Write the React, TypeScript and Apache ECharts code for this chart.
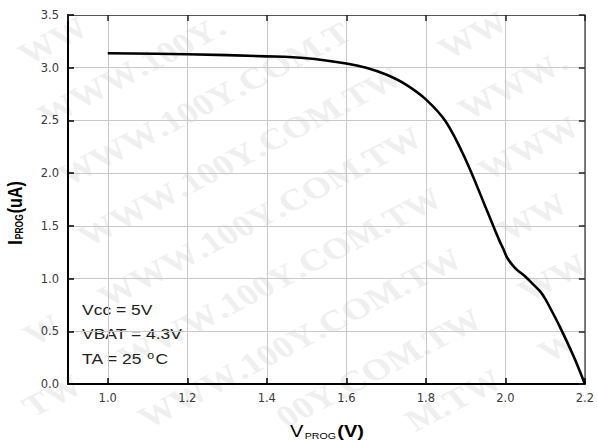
import React, { useEffect, useRef } from "react";
import * as echarts from "echarts";

// V_PROG (V)
const xValues = [1.0, 1.2, 1.4, 1.5, 1.6, 1.65, 1.7, 1.75, 1.8, 1.85, 1.9, 1.95, 1.975, 1.985, 1.995, 2.005, 2.0175, 2.03, 2.05, 2.07, 2.088, 2.1, 2.113, 2.1375, 2.1725, 2.2];
// I_PROG (uA)
const yValues = [3.137, 3.128, 3.108, 3.09, 3.04, 3.0, 2.935, 2.84, 2.7, 2.49, 2.13, 1.68, 1.45, 1.36, 1.28, 1.195, 1.13, 1.08, 1.02, 0.945, 0.876, 0.81, 0.72, 0.54, 0.256, 0.0];

const xRange = [0.9, 2.2];
const xStep = 0.2;
const yRange = [0, 3.5];
const yStep = 0.5;

const notes = ["Vcc = 5V", "VBAT = 4.3V", "TA = 25 {sup|o}C"];
const watermarkText = "WWW.100Y.COM.TW";

const SX = 1.25; // horizontal stretch of the reference's text
const W = 597;
const H = 442;

function buildWatermark() {
  const font = 'bold 30px "Liberation Serif", "DejaVu Serif", serif';
  const canvas = document.createElement("canvas");
  const ctx = canvas.getContext("2d")!;
  ctx.font = font;
  const chars = watermarkText.split("");
  const widths = chars.map((c) => ctx.measureText(c).width);
  const total = widths.reduce((a, b) => a + b, 0);
  const r = Math.atan(0.52 * SX);
  const cr = Math.cos(r);
  const sr = Math.sin(r);
  const items: any[] = [];
  for (let j = -2; j <= 7; j++) {
    for (let k = -2; k <= 2; k++) {
      const cx = 200 + 20 * j + 360 * k;
      const cy = 35 + 71 * j - 0.52 * (cx - 200);
      let off = -total / 2;
      chars.forEach((c, i) => {
        const d = off + widths[i] / 2;
        off += widths[i];
        const lx = cx / SX + d * cr;
        const ly = cy - d * sr;
        const sxp = lx * SX;
        const m = 22;
        if (sxp < m + 6 || sxp > W - m - 6 || ly < m || ly > H - m) return;
        items.push({
          type: "text",
          x: lx,
          y: ly,
          rotation: r,
          z: -10,
          silent: true,
          style: {
            text: c,
            fill: "#efefef",
            font,
            align: "center",
            verticalAlign: "middle",
          },
        });
      });
    }
  }
  return items;
}

export default function App() {
  const ref = useRef<HTMLDivElement>(null);
  useEffect(() => {
    if (!ref.current) return;
    const chart = echarts.init(ref.current, null, { renderer: "svg" });
    const labelFont = { fontFamily: '"DejaVu Sans", sans-serif', fontSize: 11.5, color: "#3a3a3a" };
    chart.setOption({
      animation: false,
      backgroundColor: "#ffffff",
      grid: { left: 68, right: 8, top: 15, bottom: 58, containLabel: false },
      xAxis: [
        {
          type: "value",
          position: "bottom",
          min: xRange[0],
          max: xRange[1],
          minInterval: xStep,
          maxInterval: xStep,
          axisLine: { show: true, onZero: false, lineStyle: { color: "#000", width: 2 } },
          axisTick: { show: true, inside: true, length: 6, lineStyle: { color: "#000", width: 1.5 } },
          axisLabel: {
            ...labelFont,
            margin: 8,
            showMinLabel: false,
            formatter: (v: number) => v.toFixed(1),
          },
          splitLine: { show: true, lineStyle: { color: "#c8c8c8", width: 1 } },
        },
        {
          type: "value",
          position: "top",
          min: xRange[0],
          max: xRange[1],
          minInterval: xStep,
          maxInterval: xStep,
          axisLine: { show: true, onZero: false, lineStyle: { color: "#555", width: 1 } },
          axisTick: { show: true, inside: true, length: 6, lineStyle: { color: "#222", width: 1.5 } },
          axisLabel: { show: false },
          splitLine: { show: false },
        },
      ],
      yAxis: [
        {
          type: "value",
          position: "left",
          min: yRange[0],
          max: yRange[1],
          interval: yStep,
          axisLine: { show: true, onZero: false, lineStyle: { color: "#000", width: 2 } },
          axisTick: { show: true, inside: true, length: 6, lineStyle: { color: "#000", width: 1.5 } },
          axisLabel: { ...labelFont, margin: 9, formatter: (v: number) => v.toFixed(1) },
          splitLine: { show: true, lineStyle: { color: "#c8c8c8", width: 1 } },
        },
        {
          type: "value",
          position: "right",
          min: yRange[0],
          max: yRange[1],
          interval: yStep,
          axisLine: { show: true, onZero: false, lineStyle: { color: "#555", width: 1.5 } },
          axisTick: { show: true, inside: true, length: 6, lineStyle: { color: "#222", width: 1.5 } },
          axisLabel: { show: false },
          splitLine: { show: false },
        },
      ],
      series: [
        {
          type: "line",
          xAxisIndex: 0,
          yAxisIndex: 0,
          data: xValues.map((x, i) => [x, yValues[i]]),
          showSymbol: false,
          smooth: 0.35,
          lineStyle: { color: "#000", width: 2.6 },
          z: 5,
        },
      ],
      graphic: [
        { type: "group", scaleX: SX, z: -10, silent: true, children: buildWatermark() },
        {
          type: "group",
          scaleX: SX,
          children: notes.map((t, i) => ({
            type: "text",
            x: 82 / SX,
            y: [310, 334, 359][i],
            style: {
              text: t,
              font: '14px "Liberation Sans", Arial, sans-serif',
              fill: "#222",
              align: "left",
              verticalAlign: "middle",
              rich: {
                sup: { fontSize: 10, fontFamily: '"Liberation Sans", Arial, sans-serif', fill: "#222", verticalAlign: "top", padding: [0, 1, 8, 0] },
              },
            },
          })),
        },
        {
          type: "group",
          scaleX: SX,
          children: [
            {
              type: "text",
              x: 327 / SX,
              y: 432,
              style: {
                text: "{v|V}{s|PROG}{b|(V)}",
                align: "center",
                verticalAlign: "middle",
                rich: {
                  v: { fontSize: 16, fontFamily: '"Liberation Sans", Arial, sans-serif', fill: "#000", verticalAlign: "bottom" },
                  s: { fontSize: 8.5, fontFamily: '"Liberation Sans", Arial, sans-serif', fill: "#000", verticalAlign: "bottom", padding: [0, 1, 0, 1] },
                  b: { fontSize: 16, fontWeight: "bold", fontFamily: '"Liberation Sans", Arial, sans-serif', fill: "#000", verticalAlign: "bottom" },
                },
              },
            },
          ],
        },
        {
          type: "group",
          scaleX: SX,
          children: [
            {
              type: "text",
              x: 15 / SX,
              y: 213,
              rotation: Math.PI / 2,
              style: {
                text: "{a|I}{s|PROG}{a|(uA)}",
                align: "center",
                verticalAlign: "middle",
                rich: {
                  a: { fontSize: 16, fontWeight: "bold", fontFamily: '"Liberation Sans", Arial, sans-serif', fill: "#000", verticalAlign: "bottom" },
                  s: { fontSize: 8.5, fontWeight: "bold", fontFamily: '"Liberation Sans", Arial, sans-serif', fill: "#000", verticalAlign: "bottom", padding: [0, 1, 0, 1] },
                },
              },
            },
          ],
        },
      ],
    });
    return () => chart.dispose();
  }, []);
  return <div ref={ref} style={{ width: 597, height: 442, position: "absolute", left: 0, top: 0 }} />;
}
